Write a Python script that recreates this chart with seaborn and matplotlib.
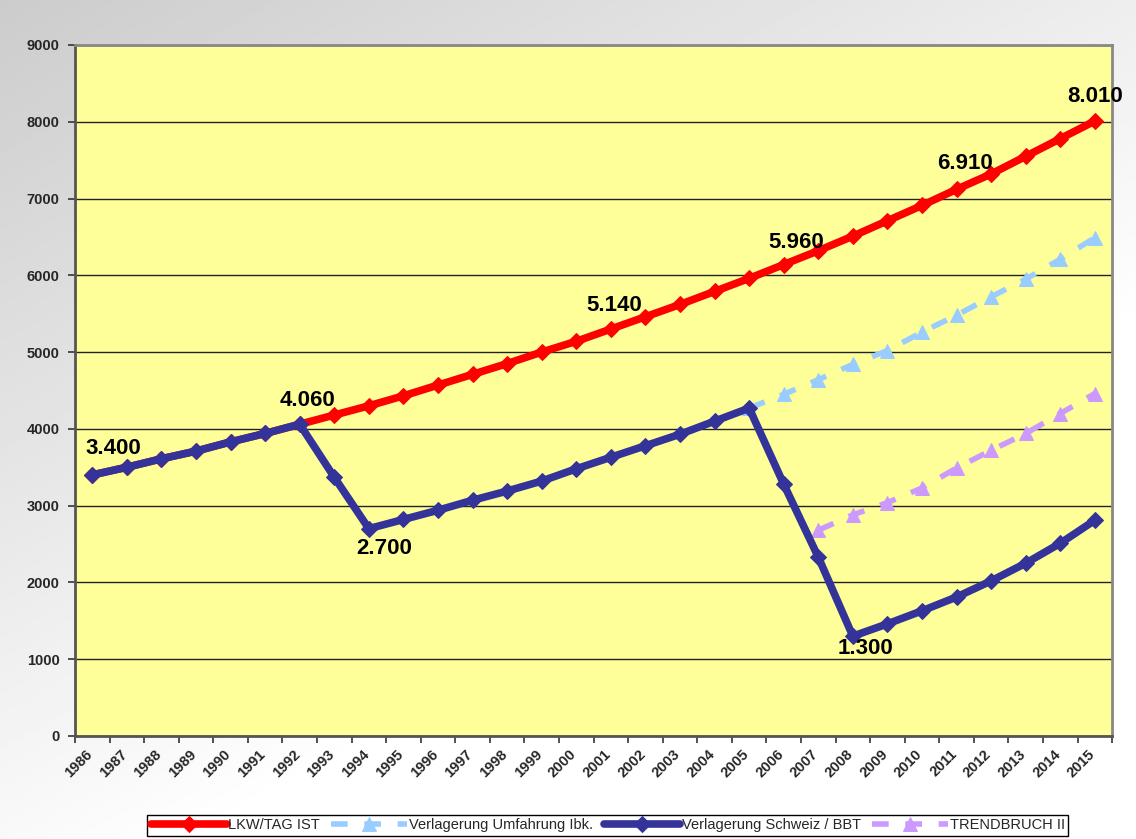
import numpy as np
import pandas as pd
import matplotlib
matplotlib.use("Agg")
import matplotlib.pyplot as plt
import matplotlib.transforms as mtransforms
import seaborn as sns

jahre = list(range(1986, 2016))

lkw_ist = [3400, 3500, 3610, 3710, 3830, 3940, 4060, 4180, 4300, 4430,
           4570, 4710, 4850, 5000, 5140, 5300, 5460, 5620, 5790, 5960,
           6140, 6320, 6510, 6710, 6910, 7120, 7320, 7550, 7780, 8010]

schweiz_bbt = [3400, 3500, 3610, 3710, 3830, 3940, 4060, 3370, 2700, 2820,
               2940, 3070, 3190, 3320, 3480, 3630, 3780, 3930, 4100, 4270,
               3280, 2330, 1300, 1460, 1630, 1810, 2020, 2250, 2510, 2810]

umfahrung_jahre = list(range(2005, 2016))
umfahrung_ibk = [4270, 4450, 4640, 4840, 5020, 5260, 5480, 5720, 5950, 6210, 6490]

trend_jahre = list(range(2007, 2016))
trendbruch = [2680, 2880, 3040, 3230, 3490, 3720, 3940, 4200, 4460]

# data labels: (jahr, wert, text, offset in px)
labels = [
    (1986, 3400, "3.400", (21, 26)),
    (1992, 4060, "4.060", (8, 24)),
    (1994, 2700, "2.700", (15, -20)),
    (2000, 5140, "5.140", (38, 36)),
    (2005, 5960, "5.960", (47, 36)),
    (2010, 6910, "6.910", (43, 42)),
    (2015, 8010, "8.010", (0, 24)),
    (2008, 1300, "1.300", (13, -12)),
]

ROT = "#FF0000"
BLAU = "#333399"
HELLBLAU = "#99CCFF"
LILA = "#CC99FF"

sns.set_theme(style="white")
plt.rcParams["font.family"] = ["Liberation Sans", "DejaVu Sans"]

fig = plt.figure(figsize=(11.36, 8.39), dpi=100)

# grauer Verlauf im Hintergrund
bg = fig.add_axes([0, 0, 1, 1], zorder=-10)
gx, gy = np.meshgrid(np.linspace(0, 1, 300), np.linspace(0, 1, 300))
verlauf = np.clip(0.80 + 0.22 * (0.6 * gx + 0.8 * gy), 0, 1)
bg.imshow(verlauf, cmap="gray", vmin=0, vmax=1, aspect="auto", extent=[0, 1, 0, 1], origin="upper")
bg.set_axis_off()

ax = fig.add_axes([0.066, 0.1228, 0.913, 0.8236])
ax.set_facecolor("#FFFF99")

x_idx = {j: i for i, j in enumerate(jahre)}

df_ist = pd.DataFrame({"x": [x_idx[j] for j in jahre], "y": lkw_ist})
df_bbt = pd.DataFrame({"x": [x_idx[j] for j in jahre], "y": schweiz_bbt})
df_umf = pd.DataFrame({"x": [x_idx[j] for j in umfahrung_jahre], "y": umfahrung_ibk})
df_trend = pd.DataFrame({"x": [x_idx[j] for j in trend_jahre], "y": trendbruch})

sns.lineplot(data=df_ist, x="x", y="y", ax=ax, color=ROT, lw=5.5, marker="D",
             markersize=8.5, markeredgecolor=ROT, label="LKW/TAG IST", zorder=3)
sns.lineplot(data=df_umf, x="x", y="y", ax=ax, color=HELLBLAU, lw=4, marker="^",
             markersize=10, markeredgecolor=HELLBLAU, linestyle=(0, (3, 3)),
             label="Verlagerung Umfahrung Ibk.", zorder=3)
sns.lineplot(data=df_bbt, x="x", y="y", ax=ax, color=BLAU, lw=5.5, marker="D",
             markersize=8.5, markeredgecolor=BLAU, label="Verlagerung Schweiz / BBT", zorder=4)
sns.lineplot(data=df_trend, x="x", y="y", ax=ax, color=LILA, lw=4, marker="^",
             markersize=10, markeredgecolor=LILA, linestyle=(0, (3, 3)),
             label="TRENDBRUCH II", zorder=3)

for jahr, wert, text, (dx, dy) in labels:
    ax.annotate(text, (x_idx[jahr], wert), xytext=(dx * 0.72, dy * 0.72),
                textcoords="offset points", ha="center", va="center",
                fontsize=16, fontweight="bold", color="black", zorder=6,
                annotation_clip=False)

ax.set_xlim(-0.5, len(jahre) - 0.5)
ax.set_ylim(0, 9000)
ax.set_yticks(range(0, 9001, 1000))
ax.set_yticklabels([str(v) for v in range(0, 9001, 1000)], fontsize=10.5, fontweight="bold")
ax.yaxis.grid(True, color="#222222", lw=1)
ax.xaxis.grid(False)
ax.set_axisbelow(True)

ax.set_xticks(range(len(jahre)))
ax.set_xticklabels([str(j) for j in jahre], rotation=45, ha="right",
                   rotation_mode="anchor", fontsize=10.5, fontweight="bold")
ax.set_xticks(np.arange(-0.5, len(jahre)), minor=True)
ax.tick_params(axis="x", which="major", length=0, pad=8)
ax.tick_params(axis="x", which="minor", length=5, width=1.2, color="#333333", direction="out", bottom=True)
ax.tick_params(axis="y", length=5, width=1.2, color="#333333", direction="out", left=True, pad=6)
verschieben = mtransforms.ScaledTranslation(-5 / 72, 0, fig.dpi_scale_trans)
for lbl in ax.get_xticklabels():
    lbl.set_transform(lbl.get_transform() + verschieben)

ax.set_xlabel("")
ax.set_ylabel("")
for s in ["left", "bottom"]:
    ax.spines[s].set_color("#555555")
    ax.spines[s].set_linewidth(2)
for s in ["top", "right"]:
    ax.spines[s].set_color("#888888")
    ax.spines[s].set_linewidth(2)

ax.get_legend().remove()
handles, texte = ax.get_legend_handles_labels()
leg = fig.legend(handles, texte, loc="center", bbox_to_anchor=(0.535, 0.0165), ncol=4,
                 frameon=True, fancybox=False, fontsize=10.5, handlelength=5.2,
                 borderpad=0.25, columnspacing=0.8, handletextpad=0.1)
leg.get_frame().set_edgecolor("black")
leg.get_frame().set_facecolor("white")
leg.get_frame().set_alpha(1)
leg.get_frame().set_linewidth(1)

fig.savefig("out.png", dpi=100)
